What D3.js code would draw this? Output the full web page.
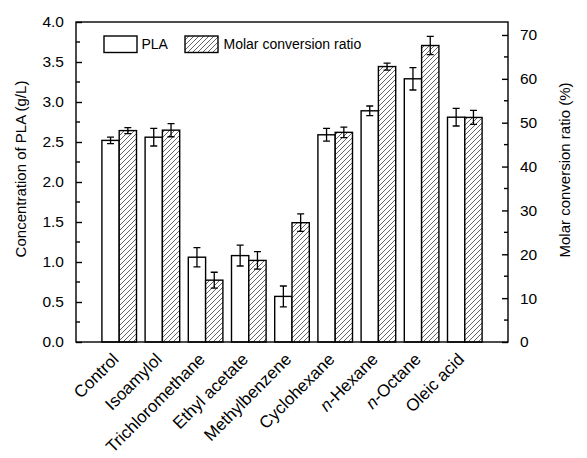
<!DOCTYPE html>
<html><head><meta charset="utf-8">
<script src="https://cdn.jsdelivr.net/npm/d3@7"></script>
<style>
body{margin:0;background:#fff;}
text{font-family:"Liberation Sans",Arial,sans-serif;fill:#000;}
</style></head>
<body><svg id="c" width="587" height="458"></svg>
<script>
const categories = ["Control","Isoamylol","Trichloromethane","Ethyl acetate","Methylbenzene","Cyclohexane","n-Hexane","n-Octane","Oleic acid"];
const plaValues = [2.52,2.56,1.06,1.08,0.57,2.59,2.89,3.29,2.81];
const plaErrors = [0.04,0.11,0.12,0.13,0.13,0.08,0.06,0.14,0.11];
const ratioValues = [48.2,48.3,14.1,18.6,27.2,47.8,62.8,67.6,51.2];
const ratioErrors = [0.7,1.5,1.8,2.0,2.0,1.2,0.8,2.1,1.6];
const leftTicks = [0,0.5,1,1.5,2,2.5,3,3.5,4];
const rightTicks = [0,10,20,30,40,50,60,70];

const svg = d3.select("#c");
const L=76, R=508, T=22, B=342;
const x = d3.scaleLinear().domain([0,10]).range([L,R]);
const yL = d3.scaleLinear().domain([0,4]).range([B,T]);
const yR = d3.scaleLinear().domain([0,72.96]).range([B,T]);
const bw = 17.3;

const defs = svg.append("defs");
const pat = defs.append("pattern").attr("id","hatch").attr("patternUnits","userSpaceOnUse")
  .attr("width",5).attr("height",5);
pat.append("rect").attr("width",5).attr("height",5).attr("fill","#fff");
pat.append("path").attr("d","M0,5 L5,0 M-1,1 L1,-1 M4,6 L6,4").attr("stroke","#555").attr("stroke-width",0.9);

// bars
const g = svg.append("g");
categories.forEach((c,i)=>{
  const cx = x(i+1);
  g.append("rect").attr("x",cx-bw).attr("y",yL(plaValues[i])).attr("width",bw)
    .attr("height",yL(0)-yL(plaValues[i])).attr("fill","#fff").attr("stroke","#000").attr("stroke-width",1.4);
  g.append("rect").attr("x",cx).attr("y",yR(ratioValues[i])).attr("width",bw)
    .attr("height",yR(0)-yR(ratioValues[i])).attr("fill","url(#hatch)").attr("stroke","#000").attr("stroke-width",1.4);
});
// error bars
function err(cx, y1, y2){
  const cw=3.5;
  g.append("path").attr("d",`M${cx},${y1}V${y2}M${cx-cw},${y1}H${cx+cw}M${cx-cw},${y2}H${cx+cw}`)
   .attr("stroke","#000").attr("stroke-width",1.3).attr("fill","none");
}
categories.forEach((c,i)=>{
  const cx = x(i+1);
  err(cx-bw/2, yL(plaValues[i]+plaErrors[i]), yL(plaValues[i]-plaErrors[i]));
  err(cx+bw/2, yR(ratioValues[i]+ratioErrors[i]), yR(ratioValues[i]-ratioErrors[i]));
});

// frame
svg.append("rect").attr("x",L).attr("y",T).attr("width",R-L).attr("height",B-T)
  .attr("fill","none").attr("stroke","#000").attr("stroke-width",1.4);

// left axis
const minorL = d3.range(0.25,4,0.5);
const axL = svg.append("g").attr("transform",`translate(${L},0)`)
  .call(d3.axisLeft(yL).tickValues(leftTicks).tickFormat(d3.format(".1f")).tickSize(-6).tickPadding(12));
axL.select(".domain").remove();
axL.selectAll("line").attr("stroke","#000").attr("stroke-width",1.4);
axL.selectAll("text").attr("font-size",15.5).style("font-family","'Liberation Sans',Arial,sans-serif");
svg.append("g").selectAll("line").data(minorL).join("line")
  .attr("x1",L).attr("x2",L+4).attr("y1",d=>yL(d)).attr("y2",d=>yL(d)).attr("stroke","#000").attr("stroke-width",1.4);

// right axis
const minorR = d3.range(5,72,10);
const axR = svg.append("g").attr("transform",`translate(${R},0)`)
  .call(d3.axisRight(yR).tickValues(rightTicks).tickFormat(d3.format("d")).tickSize(-6).tickPadding(12));
axR.select(".domain").remove();
axR.selectAll("line").attr("stroke","#000").attr("stroke-width",1.4);
axR.selectAll("text").attr("font-size",15.5).style("font-family","'Liberation Sans',Arial,sans-serif");
svg.append("g").selectAll("line").data(minorR).join("line")
  .attr("x1",R).attr("x2",R-4).attr("y1",d=>yR(d)).attr("y2",d=>yR(d)).attr("stroke","#000").attr("stroke-width",1.4);

// x labels
const xl = svg.append("g");
categories.forEach((c,i)=>{
  const cx = x(i+1);
  const t = xl.append("text").attr("transform",`translate(${cx-8},${B+10}) rotate(-45)`)
    .attr("text-anchor","end").attr("font-size",17).attr("dy","0.7em");
  if(c.startsWith("n-")){
    t.append("tspan").attr("font-style","italic").text("n");
    t.append("tspan").text(c.slice(1));
  } else t.text(c);
});

// axis titles
svg.append("text").attr("transform",`translate(26,169) rotate(-90)`).attr("text-anchor","middle")
  .attr("font-size",15).text("Concentration of PLA (g/L)");
svg.append("text").attr("transform",`translate(570,170) rotate(-90)`).attr("text-anchor","middle")
  .attr("font-size",15).text("Molar conversion ratio (%)");

// legend
const lg = svg.append("g");
lg.append("rect").attr("x",104).attr("y",36).attr("width",33).attr("height",16.5).attr("fill","#fff").attr("stroke","#000").attr("stroke-width",1.4);
lg.append("text").attr("x",141.5).attr("y",49).attr("font-size",14).text("PLA");
lg.append("rect").attr("x",185).attr("y",36).attr("width",33).attr("height",16.5).attr("fill","url(#hatch)").attr("stroke","#000").attr("stroke-width",1.4);
lg.append("text").attr("x",223.5).attr("y",49).attr("font-size",14).text("Molar conversion ratio");
</script></body></html>
